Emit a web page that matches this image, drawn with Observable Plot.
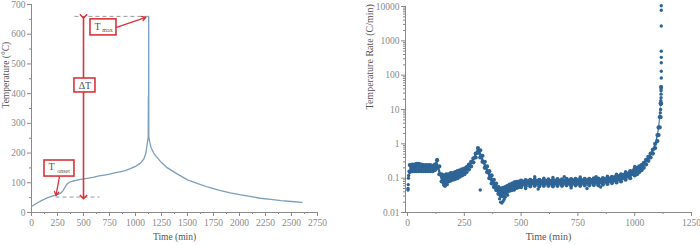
<!DOCTYPE html>
<html><head><meta charset="utf-8">
<script src="https://cdn.jsdelivr.net/npm/d3@7"></script>
<script src="https://cdn.jsdelivr.net/npm/@observablehq/plot@0.6"></script>
<style>
body{margin:0;background:#fff;}
#wrap{display:flex;width:700px;height:245px;}
</style></head><body><div id="wrap"></div>
<script>
// ---------- Left panel: temperature vs time ----------
const tempTime  = [0,50,100,150,200,250,280,300,320,340,360,380,400,450,500,550,600,650,700,750,800,850,900,950,1000,1050,1080,1100,1115,1122,1124,1125,1126,1127,1128,1130,1135,1150,1175,1200,1250,1300,1400,1500,1600,1700,1800,1900,2000,2100,2200,2300,2400,2500,2600];
const tempValue = [20,31,41,49,55,60,65,72,84,95,101,104,106,110,113,116,119,123,126,129,133,137,141,148,155,167,180,200,237,252,390,255,390,660,255,250,240,218,200,188,168,152,130,110,97,85,75,67,60,54,48,44,40,37,34];
const leftXTicks = [0,250,500,750,1000,1250,1500,1750,2000,2250,2500,2750];
const leftXMinor = [125,375,625,875,1125,1375,1625,1875,2125,2375,2625];
const leftYTicks = [0,100,200,300,400,500,600,700];
const leftYMinor = [50,150,250,350,450,550,650];
// annotations (data units)
const guideLines = [{x1:413,x2:1125,y:660},{x1:231,x2:654,y:52}];
const deltaArrow = [{x:500,y1:660,y2:52}];
const boxes = [
  {label:"ΔT", sub:"",      x1:413,x2:615,y1:404,y2:451},
  {label:"T",  sub:"max",   x1:567,x2:817,y1:596,y2:650},
  {label:"T",  sub:"onset", x1:125,x2:413,y1:121,y2:175}
];
const pointers = [{x1:817,y1:623,x2:1100,y2:657},{x1:269,y1:121,x2:235,y2:57}];

// ---------- Right panel: temperature rate vs time ----------
const rateTime = [10,20,30,40,50,60,70,80,90,100,110,120,130,140,150,160,170,180,190,200,210,220,230,240,250,260,270,280,290,300,310,320,330,340,350,360,370,380,390,400,410,420,430,440,450,460,470,480,490,500,520,540,560,580,600,620,640,660,680,700,720,740,760,780,800,820,840,860,880,900,920,940,960,980,1000,1010,1020,1030,1040,1050,1060,1070,1080,1090,1100,1105,1110,1114,1116];
const rateLow  = [0.15,0.16,0.16,0.16,0.16,0.16,0.16,0.16,0.16,0.16,0.16,0.17,0.2,0.13,0.08,0.07,0.07,0.08,0.085,0.09,0.095,0.1,0.11,0.12,0.13,0.15,0.18,0.22,0.29,0.4,0.55,0.4,0.3,0.2,0.15,0.1,0.07,0.055,0.045,0.035,0.03,0.03,0.035,0.04,0.043,0.045,0.05,0.052,0.055,0.055,0.058,0.058,0.06,0.058,0.06,0.06,0.058,0.06,0.06,0.062,0.06,0.062,0.06,0.062,0.062,0.063,0.062,0.065,0.068,0.072,0.075,0.08,0.09,0.1,0.12,0.13,0.15,0.17,0.2,0.25,0.32,0.4,0.52,0.75,1.2,1.8,3,6,15];
const rateHigh = [0.24,0.25,0.25,0.26,0.26,0.25,0.24,0.24,0.24,0.24,0.23,0.25,0.33,0.22,0.13,0.12,0.13,0.13,0.14,0.14,0.15,0.16,0.17,0.18,0.19,0.21,0.25,0.3,0.38,0.52,0.75,0.65,0.45,0.3,0.22,0.16,0.12,0.09,0.07,0.055,0.05,0.052,0.055,0.06,0.065,0.07,0.075,0.078,0.08,0.085,0.088,0.09,0.092,0.09,0.09,0.092,0.09,0.094,0.092,0.095,0.094,0.096,0.095,0.095,0.096,0.098,0.097,0.1,0.105,0.11,0.12,0.13,0.14,0.16,0.19,0.2,0.22,0.24,0.28,0.34,0.42,0.52,0.68,1.0,1.8,3,6,15,45];
const extraTime = [2,2,3,4,5,7,130,160,165,175,320,405,410,415,420,425,430,440,470,520,560,575,600,640,690,720,760,790,830,850,880,920,960,1000,1112,1113,1114,1115,1115,1116,1116,1116,1116,1117,1117,1117,1117,1117,1117,1117,1117,1117];
const extraRate = [0.045,0.05,0.065,0.1,0.12,0.16,0.35,0.062,0.058,0.065,0.045,0.025,0.02,0.019,0.021,0.024,0.028,0.032,0.045,0.05,0.11,0.048,0.1,0.105,0.11,0.052,0.108,0.05,0.11,0.055,0.115,0.13,0.155,0.22,6,8,10,14,18,22,28,35,40,45,83,130,230,330,500,2700,7800,10500];
const rightXTicks = [0,250,500,750,1000,1250];
const rightXMinor = [125,375,625,875,1125];
const rightYTicks = [0.01,0.1,1,10,100,1000,10000];
const rightYMinor = [0.02,0.03,0.04,0.05,0.06,0.07,0.08,0.09,0.2,0.3,0.4,0.5,0.6,0.7,0.8,0.9,2,3,4,5,6,7,8,9,20,30,40,50,60,70,80,90,200,300,400,500,600,700,800,900,2000,3000,4000,5000,6000,7000,8000,9000];

const FONT = "Liberation Serif";
const AX = "#8a8a8a";
const RED = "#d8343b";
const BLUE = "#2e6496";
const TXT = "#555";

const tempData = tempTime.map((t,i)=>({t, v: tempValue[i]}));
const band = rateTime.map((t,i)=>({t, lo: rateLow[i], hi: rateHigh[i]}));
const extras = extraTime.map((t,i)=>({t, r: extraRate[i]}));
const cx = d => (d.x1 + d.x2) / 2, cy = d => (d.y1 + d.y2) / 2;

const left = Plot.plot({
  width: 350, height: 245,
  marginLeft: 31, marginRight: 33, marginTop: 4, marginBottom: 33,
  style: {fontFamily: FONT, fontSize: "9.5px", background: "#fff"},
  x: {domain: [0, 2750]},
  y: {domain: [0, 700]},
  marks: [
    Plot.ruleX([0], {stroke: AX}),
    Plot.ruleY([0], {stroke: AX}),
    Plot.axisX({ticks: leftXTicks, tickSize: 4, tickPadding: 3, label: null, color: AX, tickFormat: d => String(d)}),
    Plot.axisX({ticks: leftXMinor, tickSize: 2, label: null, color: AX, tickFormat: () => ""}),
    Plot.axisY({ticks: leftYTicks, tickSize: 4, tickPadding: 2, label: null, color: AX, tickFormat: d => String(d)}),
    Plot.axisY({ticks: leftYMinor, tickSize: 2, label: null, color: AX, tickFormat: () => ""}),
    Plot.link(guideLines, {x1: "x1", x2: "x2", y1: "y", y2: "y", stroke: "#999", strokeDasharray: "4,3", strokeWidth: 1}),
    Plot.line(tempData, {x: "t", y: "v", stroke: "#7d9fba", strokeWidth: 1.3}),
    Plot.link(deltaArrow, {x1: "x", x2: "x", y1: "y1", y2: "y2", stroke: RED, strokeWidth: 1.6, markerStart: "arrow", markerEnd: "arrow"}),
    Plot.arrow(pointers, {x1: "x1", y1: "y1", x2: "x2", y2: "y2", stroke: RED, strokeWidth: 1.3, headLength: 5}),
    Plot.rect(boxes, {x1: "x1", x2: "x2", y1: "y1", y2: "y2", fill: "#fff", stroke: RED, strokeWidth: 1.6}),
    Plot.text(boxes.slice(0, 1), {x: cx, y: cy, text: "label", fontSize: 10, fill: TXT}),
    Plot.text(boxes.slice(1, 2), {x: cx, y: cy, text: "label", dx: -6, dy: -1, fontSize: 10, fill: TXT}),
    Plot.text(boxes.slice(1, 2), {x: cx, y: cy, text: "sub", dx: 4, dy: 3, fontSize: 6, fill: TXT}),
    Plot.text(boxes.slice(2, 3), {x: cx, y: cy, text: "label", dx: -8, dy: -2, fontSize: 10, fill: TXT}),
    Plot.text(boxes.slice(2, 3), {x: cx, y: cy, text: "sub", dx: 4, dy: 3, fontSize: 6, fill: TXT}),
    Plot.text(["Time (min)"], {text: d => d, frameAnchor: "bottom", dy: 27, fontSize: 9.5, fill: TXT}),
    Plot.text(["Temperature (°C)"], {text: d => d, frameAnchor: "left", rotate: -90, dx: -26, fontSize: 9.5, fill: TXT})
  ]
});

const right = Plot.plot({
  width: 350, height: 245,
  marginLeft: 55, marginRight: 9, marginTop: 6, marginBottom: 33,
  style: {fontFamily: FONT, fontSize: "9.5px", background: "#fff"},
  x: {domain: [-9, 1250]},
  y: {type: "log", domain: [0.01, 10000]},
  marks: [
    Plot.ruleX([-9], {stroke: AX}),
    Plot.ruleY([0.01], {stroke: AX}),
    Plot.axisX({ticks: rightXTicks, tickSize: 4, tickPadding: 3, label: null, color: AX, tickFormat: d => String(d)}),
    Plot.axisX({ticks: rightXMinor, tickSize: 2, label: null, color: AX, tickFormat: () => ""}),
    Plot.axisY({ticks: rightYTicks, tickSize: 4, tickPadding: 2, label: null, color: AX, tickFormat: d => String(d)}),
    Plot.axisY({ticks: rightYMinor, tickSize: 2, label: null, color: AX, tickFormat: () => ""}),
    Plot.areaY(band, {x: "t", y1: "lo", y2: "hi", fill: BLUE}),
    Plot.dot(band, {x: "t", y: "lo", r: 2.1, fill: BLUE}),
    Plot.dot(band, {x: "t", y: "hi", r: 2.1, fill: BLUE}),
    Plot.dot(extras, {x: "t", y: "r", r: 1.7, fill: BLUE}),
    Plot.text(["Time (min)"], {text: d => d, frameAnchor: "bottom", dy: 27, fontSize: 10, fill: TXT}),
    Plot.text(["Temperature Rate (C/min)"], {text: d => d, frameAnchor: "left", rotate: -90, dx: -36, fontSize: 10, fill: TXT})
  ]
});

const wrap = document.getElementById("wrap");
wrap.appendChild(left);
wrap.appendChild(right);
</script></body></html>
